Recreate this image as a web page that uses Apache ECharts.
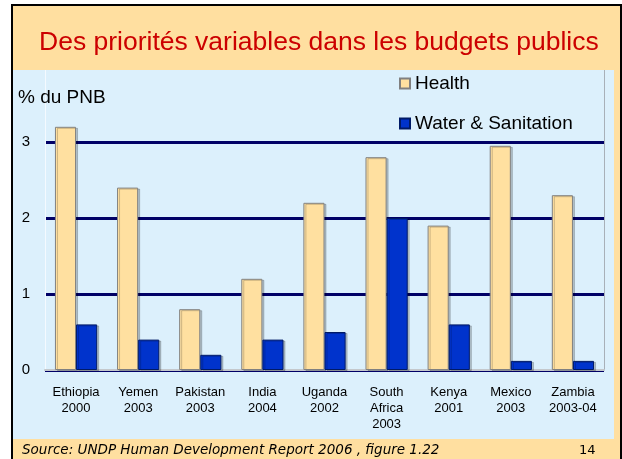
<!DOCTYPE html>
<html>
<head>
<meta charset="utf-8">
<script src="https://cdn.jsdelivr.net/npm/echarts@6/dist/echarts.min.js"></script>
<style>
  html, body { margin: 0; padding: 0; }
  body { width: 622px; height: 459px; position: relative; background: #fff; overflow: hidden; }
  #frame { position: absolute; left: 11px; top: 4px; width: 607px; height: 455px;
           border-left: 2px solid #000; border-top: 2px solid #000; border-right: 2px solid #000;
           background: #ffdfa0; }
  #panel { position: absolute; left: 13px; top: 70px; width: 601px; height: 369px; background: #dcf0fc; }
  #chart { position: absolute; left: 0; top: 0; width: 622px; height: 459px; }
</style>
</head>
<body>
<div id="frame"></div>
<div id="panel"></div>
<div id="chart"></div>
<script>
const categories = ['Ethiopia\n2000', 'Yemen\n2003', 'Pakistan\n2003', 'India\n2004', 'Uganda\n2002',
  'South\nAfrica\n2003', 'Kenya\n2001', 'Mexico\n2003', 'Zambia\n2003-04'];
const health = [3.2, 2.4, 0.8, 1.2, 2.2, 2.8, 1.9, 2.95, 2.3];
const water = [0.6, 0.4, 0.2, 0.4, 0.5, 2.0, 0.6, 0.12, 0.12];
const yTicks = [0, 1, 2, 3, 4];

const chart = echarts.init(document.getElementById('chart'));

const option = {
  animation: false,
  backgroundColor: 'transparent',
  textStyle: { fontFamily: 'Liberation Sans, Arial, sans-serif' },
  grid: { left: 45, right: 18, top: 66, bottom: 89 },
  legend: {
    orient: 'vertical',
    left: 394,
    top: 69,
    itemWidth: 10,
    itemHeight: 10,
    itemGap: 21,
    icon: 'rect',
    textStyle: { fontSize: 19, color: '#000' },
    data: ['Health', 'Water & Sanitation']
  },
  xAxis: {
    type: 'category',
    data: categories,
    axisLine: { lineStyle: { color: '#c4c8cc', width: 2 } },
    axisTick: { show: false },
    axisLabel: { interval: 0, fontSize: 13, lineHeight: 16, color: '#000', margin: 14 }
  },
  yAxis: [{
    type: 'value',
    min: 0,
    max: 4,
    interval: 1,
    axisLine: { show: true, lineStyle: { color: '#f4faff', width: 1 } },
    axisTick: { show: false },
    axisLabel: {
      fontSize: 15, color: '#000', margin: 15,
      formatter: v => yTicks.indexOf(v) >= 0 && v < 4 ? String(v) : ''
    },
    splitLine: { show: true, lineStyle: { color: '#000066', width: 3 } }
  }, {
    type: 'value',
    min: 0,
    max: 4,
    interval: 1,
    position: 'right',
    axisLine: { show: true, lineStyle: { color: '#a8b0b8', width: 1 } },
    axisTick: { show: false },
    axisLabel: { show: false },
    splitLine: { show: false }
  }],
  series: [{
    name: 'Health',
    type: 'bar',
    data: health,
    barGap: '0%',
    barCategoryGap: '32%',
    itemStyle: {
      color: '#ffe0a0', borderColor: '#808080', borderWidth: 1,
      shadowColor: 'rgba(0,0,0,0.2)', shadowOffsetX: 2, shadowOffsetY: 1, shadowBlur: 0
    }
  }, {
    name: 'Water & Sanitation',
    type: 'bar',
    data: water,
    itemStyle: {
      color: '#0033cc', borderColor: '#001a66', borderWidth: 1,
      shadowColor: 'rgba(0,0,0,0.2)', shadowOffsetX: 2, shadowOffsetY: 1, shadowBlur: 0
    }
  }],
  graphic: [
    { type: 'rect', z: 100, shape: { x: 13, y: 6, width: 607, height: 64 }, style: { fill: '#ffdfa0' } },
    {
      type: 'text', z: 101, left: 39, top: 29,
      style: { text: 'Des priorités variables dans les budgets publics', fill: '#cc0000',
        font: '26.5px "Liberation Sans", Arial, sans-serif' }
    },
    {
      type: 'text', z: 101, left: 18, top: 88,
      style: { text: '% du PNB', fill: '#000', font: '19px "Liberation Sans", Arial, sans-serif' }
    },
    {
      type: 'text', z: 101, left: 22, top: 443,
      style: { text: 'Source: UNDP Human Development Report 2006 , figure 1.22', fill: '#000',
        font: 'italic 13.5px "DejaVu Sans", Verdana, sans-serif' }
    },
    {
      type: 'text', z: 101, left: 579, top: 444,
      style: { text: '14', fill: '#000', font: '13px "DejaVu Sans", Verdana, sans-serif' }
    }
  ]
};

chart.setOption(option);
</script>
</body>
</html>
